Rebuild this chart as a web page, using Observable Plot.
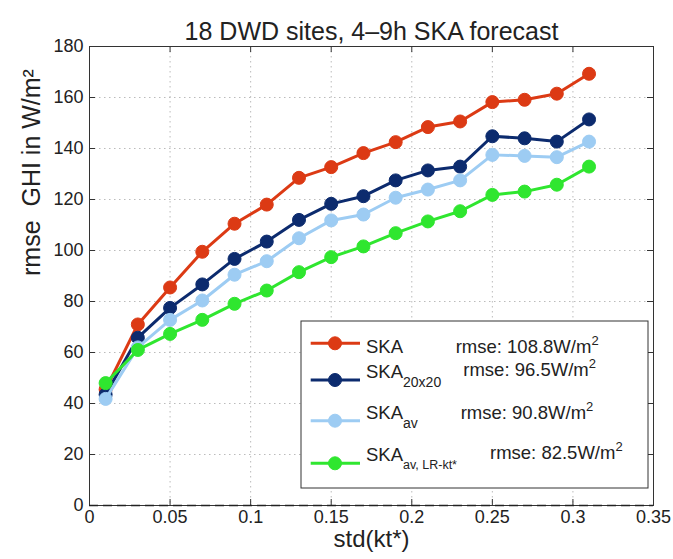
<!DOCTYPE html>
<html><head><meta charset="utf-8">
<script src="https://cdn.jsdelivr.net/npm/d3@7"></script>
<script src="https://cdn.jsdelivr.net/npm/@observablehq/plot@0.6"></script>
<style>
body{margin:0;background:#fff;}
#wrap{position:relative;width:673px;height:559px;font-family:"Liberation Sans",Arial,sans-serif;}
#legend{position:absolute;left:0;top:0;pointer-events:none;}
</style></head><body><div id="wrap"></div>
<script>
// ---- data ----
const stdKt = [0.01,0.03,0.05,0.07,0.09,0.11,0.13,0.15,0.17,0.19,0.21,0.23,0.25,0.27,0.29,0.31];
const seriesNames = ["SKA","SKA20x20","SKAav","SKAav,LR-kt*"];
const rmseSKA     = [45.5,71,85.5,99.5,110.5,118,128.5,132.7,138.2,142.5,148.4,150.6,158.2,159.1,161.5,169.3];
const rmseSKA20   = [43.5,65.8,77.5,86.7,96.7,103.5,112,118.3,121.3,127.5,131.4,132.9,144.8,144,142.7,151.4];
const rmseSKAav   = [41.8,62,72.8,80.4,90.5,95.8,104.8,111.8,114.1,120.7,123.9,127.5,137.5,137.1,136.6,142.7];
const rmseSKAavLR = [48,61,67.3,72.8,79.1,84.3,91.5,97.4,101.6,106.8,111.4,115.4,121.8,123.1,125.8,132.9];
const legendBase  = ["SKA","SKA","SKA","SKA"];
const legendSub   = ["","20x20","av","av, LR-kt*"];
const overallRmse = ["108.8","96.5","90.8","82.5"];
const xTicks = [0,0.05,0.1,0.15,0.2,0.25,0.3,0.35];
const yTicks = [0,20,40,60,80,100,120,140,160,180];
const titleText = "18 DWD sites, 4–9h SKA forecast";
const xLabel = "std(kt*)";
const yLabel = "rmse  GHI in W/m²";

// ---- styles / layout ----
const colors = ["#dc3a14","#0c2b6e","#9dccf3","#2fe62f"];
const W = 673, H = 559, mL = 89, mR = 20, mT = 46, mB = 54;
const fw = W - mL - mR, fh = H - mT - mB, tk = 6;

const allSeries = [rmseSKA, rmseSKA20, rmseSKAav, rmseSKAavLR];
const table = [];
allSeries.forEach((arr, i) => arr.forEach((v, j) => table.push({series: seriesNames[i], x: stdKt[j], y: v})));

const seriesMarks = seriesNames.flatMap((name) => {
  const d = table.filter(r => r.series === name);
  return [
    Plot.line(d, {x: "x", y: "y", stroke: "series", strokeWidth: 3}),
    Plot.dot(d, {x: "x", y: "y", fill: "series", stroke: "series", strokeWidth: 1, r: 6.5})
  ];
});

const chart = Plot.plot({
  width: W, height: H,
  marginLeft: mL, marginRight: mR, marginTop: mT, marginBottom: mB,
  style: {fontFamily: '"Liberation Sans", Arial, sans-serif', fontSize: "18px", color: "#222", background: "#fff"},
  x: {domain: [0, 0.35]},
  y: {domain: [0, 180]},
  color: {domain: seriesNames, range: colors},
  marks: [
    Plot.gridX(xTicks.slice(1, -1), {stroke: "#aaa", strokeOpacity: 0.8, strokeDasharray: "1.5,3.5"}),
    Plot.gridY(yTicks.slice(1, -1), {stroke: "#aaa", strokeOpacity: 0.8, strokeDasharray: "1.5,3.5"}),
    Plot.tickX(xTicks.slice(1, -1), {x: d => d, insetTop: fh - tk, stroke: "#333"}),
    Plot.tickX(xTicks.slice(1, -1), {x: d => d, insetBottom: fh - tk, stroke: "#333"}),
    Plot.tickY(yTicks.slice(1, -1), {y: d => d, insetRight: fw - tk, stroke: "#333"}),
    Plot.tickY(yTicks.slice(1, -1), {y: d => d, insetLeft: fw - tk, stroke: "#333"}),
    Plot.axisX(xTicks, {tickSize: 0, tickPadding: 5, fontSize: 18, label: null, tickFormat: d => String(d)}),
    Plot.axisY(yTicks, {tickSize: 0, tickPadding: 6, fontSize: 18, label: null}),
    Plot.frame({stroke: "#333", strokeWidth: 1}),
    Plot.ruleY([0], {stroke: "#222", strokeWidth: 1.5, strokeDasharray: "9,5"}),
    ...seriesMarks,
    Plot.text([titleText], {text: d => d, frameAnchor: "top", dy: -24, fontSize: 25}),
    Plot.text([xLabel], {text: d => d, frameAnchor: "bottom", dy: 41, fontSize: 24}),
    Plot.text([yLabel], {text: d => d, frameAnchor: "left", rotate: -90, dx: -58, fontSize: 25})
  ]
});
const wrap = document.getElementById("wrap");
wrap.appendChild(chart);

// ---- legend overlay ----
const box = {x: 301, y: 321, w: 347, h: 167};
const markerY = [343.3, 380, 420.7, 463.3];
const nameY = [353.3, 378.3, 419.3, 460.7];
const subSize = [14, 14, 14, 12.5];
const rmseX = [455.7, 463.3, 460.7, 490];
const rmseY = [352.7, 376, 419, 459.3];
let svg = `<svg id="legend" width="${W}" height="${H}" xmlns="http://www.w3.org/2000/svg" font-family='"Liberation Sans", Arial, sans-serif' fill="#222">`;
svg += `<rect x="${box.x}" y="${box.y}" width="${box.w}" height="${box.h}" fill="#fff" stroke="#333" stroke-width="1"/>`;
seriesNames.forEach((n, i) => {
  svg += `<line x1="310.7" x2="360" y1="${markerY[i]}" y2="${markerY[i]}" stroke="${colors[i]}" stroke-width="3"/>`;
  svg += `<circle cx="335" cy="${markerY[i]}" r="6.5" fill="${colors[i]}" stroke="${colors[i]}"/>`;
  const sub = legendSub[i] ? `<tspan font-size="${subSize[i]}" dy="8.5">${legendSub[i]}</tspan>` : "";
  svg += `<text x="366" y="${nameY[i]}" font-size="18.5">${legendBase[i]}${sub}</text>`;
  svg += `<text x="${rmseX[i]}" y="${rmseY[i]}" font-size="18.5">rmse: ${overallRmse[i]}W/m<tspan font-size="13" dy="-8">2</tspan></text>`;
});
svg += `</svg>`;
wrap.insertAdjacentHTML("beforeend", svg);
</script>
</body></html>
